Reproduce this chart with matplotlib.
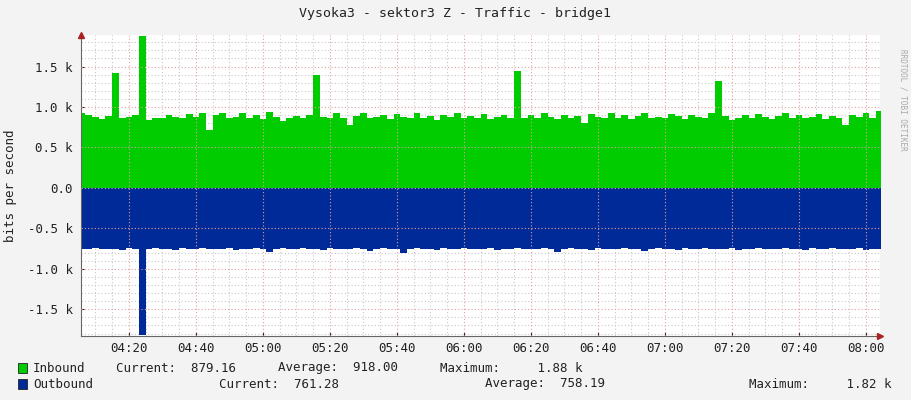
import matplotlib
matplotlib.use("Agg")
import matplotlib.pyplot as plt
import numpy as np
from matplotlib.ticker import MultipleLocator, FuncFormatter

plt.rcParams['font.family'] = ['DejaVu Sans Mono']

# minutes after 04:05, 2-minute steps
start_min = 4*60 + 5
step = 2
inbound = [0.93, 0.90, 0.88, 0.85, 0.89, 1.42, 0.86, 0.88, 0.90, 1.88,
           0.84, 0.87, 0.86, 0.90, 0.88, 0.86, 0.91, 0.88, 0.92, 0.72,
           0.90, 0.93, 0.86, 0.88, 0.92, 0.87, 0.90, 0.85, 0.94, 0.88,
           0.83, 0.86, 0.89, 0.87, 0.90, 1.40, 0.88, 0.86, 0.92, 0.87,
           0.78, 0.89, 0.93, 0.86, 0.88, 0.90, 0.85, 0.91, 0.88, 0.86,
           0.93, 0.87, 0.89, 0.84, 0.90, 0.88, 0.92, 0.86, 0.89, 0.87,
           0.91, 0.85, 0.88, 0.90, 0.86, 1.45, 0.87, 0.90, 0.86, 0.92,
           0.88, 0.85, 0.90, 0.87, 0.89, 0.80, 0.91, 0.88, 0.86, 0.92,
           0.87, 0.90, 0.85, 0.89, 0.93, 0.87, 0.88, 0.86, 0.91, 0.89,
           0.85, 0.90, 0.88, 0.86, 0.92, 1.32, 0.89, 0.84, 0.87, 0.90,
           0.86, 0.91, 0.88, 0.85, 0.89, 0.92, 0.87, 0.90, 0.86, 0.88,
           0.91, 0.85, 0.89, 0.87, 0.78, 0.90, 0.88, 0.93, 0.86, 0.95,
           0.88]
outbound = [-0.75, -0.76, -0.74, -0.76, -0.75, -0.75, -0.77, -0.74, -0.76, -1.82,
            -0.75, -0.74, -0.76, -0.75, -0.77, -0.74, -0.75, -0.76, -0.74, -0.75,
            -0.76, -0.75, -0.74, -0.77, -0.75, -0.76, -0.74, -0.75, -0.79, -0.75,
            -0.74, -0.76, -0.75, -0.74, -0.76, -0.75, -0.77, -0.74, -0.75, -0.76,
            -0.75, -0.74, -0.76, -0.78, -0.75, -0.74, -0.76, -0.75, -0.80, -0.75,
            -0.74, -0.76, -0.75, -0.77, -0.74, -0.75, -0.76, -0.74, -0.75, -0.76,
            -0.75, -0.74, -0.77, -0.75, -0.76, -0.74, -0.75, -0.76, -0.75, -0.74,
            -0.76, -0.79, -0.75, -0.74, -0.76, -0.75, -0.77, -0.74, -0.75, -0.76,
            -0.75, -0.74, -0.76, -0.75, -0.78, -0.75, -0.74, -0.76, -0.75, -0.77,
            -0.74, -0.75, -0.76, -0.74, -0.75, -0.76, -0.75, -0.74, -0.77, -0.75,
            -0.76, -0.74, -0.75, -0.76, -0.75, -0.74, -0.76, -0.75, -0.77, -0.74,
            -0.75, -0.76, -0.74, -0.75, -0.76, -0.75, -0.74, -0.77, -0.75, -0.76,
            -0.76]
tick_labels = ["04:20", "04:40", "05:00", "05:20", "05:40", "06:00",
               "06:20", "06:40", "07:00", "07:20", "07:40", "08:00"]

t = start_min + step*np.arange(len(inbound))
t_edges = np.append(t, t[-1] + step)
inb = np.append(inbound, inbound[-1])
outb = np.append(outbound, outbound[-1])

fig = plt.figure(figsize=(9.11, 4.0), dpi=100)
fig.patch.set_facecolor('#F3F3F3')
ax = fig.add_axes([81/911, 64/400, 799/911, 301/400])
ax.set_facecolor('white')

xmin = 4*60 + 5.7
xmax = 8*60 + 4.2
ax.set_xlim(xmin, xmax)
ax.set_ylim(-1.83, 1.89)

ax.fill_between(t_edges, 0, inb, step='post', color='#00CC00', lw=0, zorder=2)
ax.fill_between(t_edges, 0, outb, step='post', color='#002A97', lw=0, zorder=2)

# grid
for m in np.arange(4*60+10, xmax, 5):
    major = (m % 20 == 0)
    ax.axvline(m, color='#E0A0A0' if major else '#C8C8C8', ls=(0, (1, 2)), lw=0.8,
               zorder=3 if major else 1)
for v in np.arange(-1.8, 1.9, 0.1):
    vv = round(v, 1)
    major = abs(vv*2 - round(vv*2)) < 1e-6
    ax.axhline(vv, color='#E0A0A0' if major else '#C8C8C8', ls=(0, (1, 2)), lw=0.8,
               zorder=3 if major else 1)

ticks = [4*60+20 + 20*i for i in range(len(tick_labels))]
ax.set_xticks(ticks)
ax.set_xticklabels(tick_labels)
ax.set_yticks([-1.5, -1.0, -0.5, 0.0, 0.5, 1.0, 1.5])
ax.yaxis.set_major_formatter(FuncFormatter(lambda v, p: f"{v:.1f} k" if abs(v) > 1e-9 else "0.0"))
ax.tick_params(axis='both', labelsize=9, colors='#222222', length=3, direction='in', pad=4)
ax.tick_params(axis='y', length=2, pad=6)
for s in ['top', 'right']:
    ax.spines[s].set_visible(False)
for s in ['left', 'bottom']:
    ax.spines[s].set_color('#666666')
    ax.spines[s].set_linewidth(0.8)
ax.axhline(0, color='#666666', lw=0, zorder=0)
ax.set_ylabel('bits per second', fontsize=9, color='#222222', labelpad=8)

# arrows
ax.plot([xmin], [1.89], marker='^', color='#AA2222', ms=4, clip_on=False, zorder=5)
ax.plot([xmax], [-1.83], marker='>', color='#AA2222', ms=4, clip_on=False, zorder=5)

fig.text(455/911, 1-14/400, 'Vysoka3 - sektor3 Z - Traffic - bridge1', ha='center', va='center',
         fontsize=9.5, color='#222222')
fig.text(903/911, 0.75, 'RRDTOOL / TOBI OETIKER', rotation=270, ha='center', va='center',
         fontsize=5.5, color='#AAAAAA')

# legend
def sq(x, y, c):
    fig.patches.append(plt.Rectangle((x/911, 1-(y+5)/400), 9/911, 10/400, transform=fig.transFigure,
                                     facecolor=c, edgecolor='#222222', lw=0.6))
sq(18, 368, '#00CC00')
sq(18, 384, '#002A97')
def lt(x, y, s):
    fig.text(x/911, 1-y/400, s, fontsize=9, color='#222222', va='center')
lt(33, 368, 'Inbound')
lt(116, 368, 'Current:  879.16')
lt(278, 368, 'Average:  918.00')
lt(440, 368, 'Maximum:     1.88 k')
lt(33, 384, 'Outbound')
lt(219, 384, 'Current:  761.28')
lt(485, 384, 'Average:  758.19')
lt(749, 384, 'Maximum:     1.82 k')

fig.savefig('out.png', dpi=100, facecolor=fig.get_facecolor())
